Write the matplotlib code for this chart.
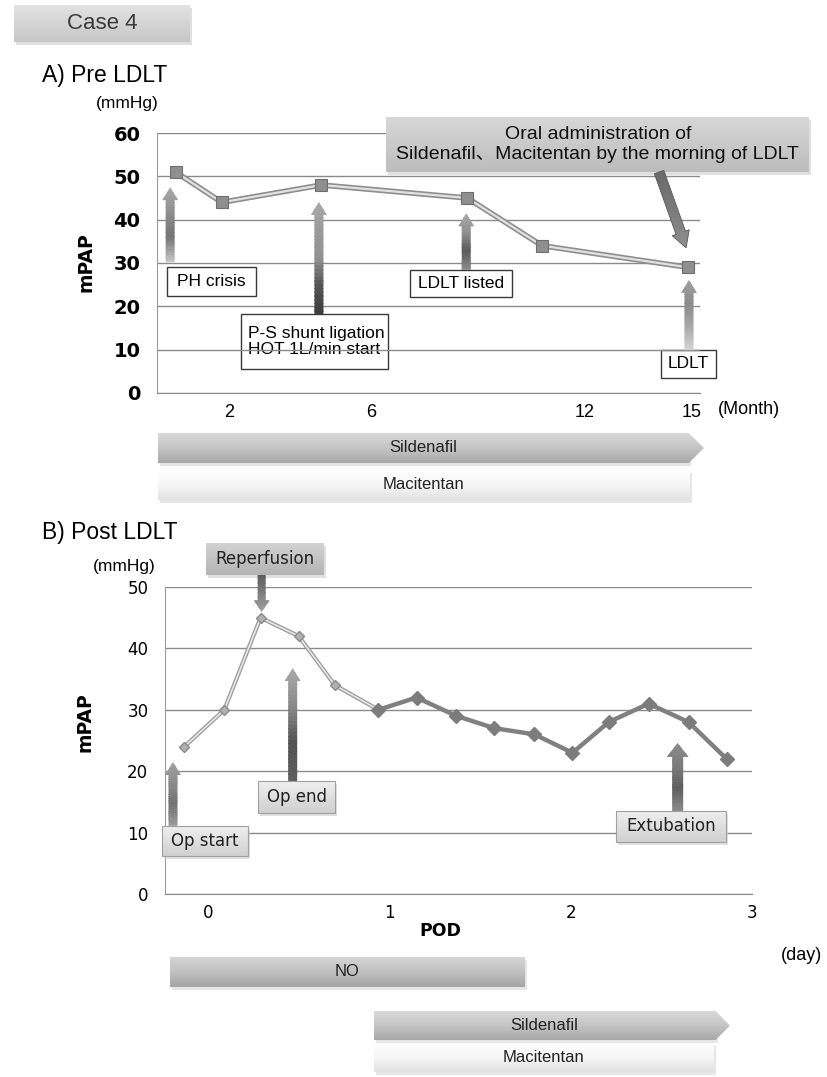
import numpy as np
import matplotlib.pyplot as plt
from matplotlib.patches import Polygon, Rectangle
from matplotlib.transforms import Affine2D
from matplotlib.colors import to_rgb

W, H = 827, 1077
plt.rcParams['font.family'] = ['Liberation Sans', 'Noto Sans CJK JP', 'DejaVu Sans']

# ---- data: A) pre LDLT ----
months = [0.5, 1.8, 4.6, 8.7, 10.8, 14.9]
mpap_pre = [51, 44, 48, 45, 34, 29]
month_ticks = [2, 6, 12, 15]

# ---- data: B) post LDLT ----
pod = [-0.13, 0.09, 0.29, 0.50, 0.70, 0.94, 1.15, 1.37, 1.58, 1.80,
       2.01, 2.21, 2.43, 2.65, 2.86]
mpap_post = [24, 30, 45, 42, 34, 30, 32, 29, 27, 26, 23, 28, 31, 28, 22]
pod_ticks = [0, 1, 2, 3]
n_intraop = 6  # first points drawn with the thin line

# events (label, x, arrow tail, arrow head) in data units
pre_events = ["PH crisis", "P-S shunt ligation\nHOT 1L/min start", "LDLT listed", "LDLT"]
pre_event_x = [0.35, 4.53, 8.67, 14.93]
pre_event_tail = [30.2, 18.2, 28.4, 9.9]
pre_event_head = [47.5, 44.1, 41.5, 26.1]
pre_box_xy = [(1.51, 25.7), (4.41, 11.9), (8.52, 25.3), (14.92, 6.7)]

post_events = ["Op start", "Op end", "Extubation"]
post_event_x = [-0.193, 0.467, 2.59]
post_event_tail = [11.1, 18.4, 13.5]
post_event_head = [21.5, 36.8, 24.6]
post_box_xy = [(-0.019, 8.6), (0.489, 15.8), (2.552, 11.0)]

# treatments (label, start, end)
pre_drugs = [("Sildenafil", 0.0, 15.35), ("Macitentan", 0.0, 14.96)]
post_drugs = [("NO", -0.209, 1.748), ("Sildenafil", 0.913, 2.877), ("Macitentan", 0.913, 2.789)]

fig = plt.figure(figsize=(W / 100, H / 100), dpi=100)
fig.patch.set_facecolor('white')
REF = Affine2D().scale(1, -1).translate(0, H)   # pixel coords, origin top-left


def frac(l, t, r, b):
    return [l / W, 1 - b / H, (r - l) / W, (b - t) / H]


def to_ref(ax, x, y):
    dx, dy = ax.transData.transform((x, y))
    return dx, H - dy


def mix(stops, t):
    cols = [np.array(to_rgb(c)) for c in stops]
    s = t * (len(cols) - 1)
    i = min(int(s), len(cols) - 2)
    f = s - i
    return tuple(cols[i] + (cols[i + 1] - cols[i]) * f)


def grad_patch(target, verts, stops, z, edge=None, lw=0.8, n=30):
    verts = np.asarray(verts, float)
    clip = Polygon(verts, closed=True, transform=REF, facecolor='none',
                   edgecolor=edge if edge else 'none', lw=lw, zorder=z + 0.01)
    x0, x1 = verts[:, 0].min(), verts[:, 0].max()
    y0, y1 = verts[:, 1].min(), verts[:, 1].max()
    hh = (y1 - y0) / n
    for i in range(n):
        r = Rectangle((x0, y0 + i * hh), x1 - x0, hh * 1.3, transform=REF,
                      facecolor=mix(stops, i / (n - 1)), edgecolor='none', zorder=z)
        r.set_clip_path(clip)
        target.add_artist(r)
    clip.set_clip_on(False)
    target.add_artist(clip)


def arrow_verts(p0, p1, w, hw, hl):
    p0, p1 = np.array(p0, float), np.array(p1, float)
    d = p1 - p0
    u = d / np.hypot(*d)
    nv = np.array([-u[1], u[0]])
    b = p1 - u * hl
    return [p0 + nv * w / 2, b + nv * w / 2, b + nv * hw / 2, p1,
            b - nv * hw / 2, b - nv * w / 2, p0 - nv * w / 2]


def box(cx, cy, w, h, text, stops, edge=None, z=6, shadow=True, **tk):
    x0, y0 = cx - w / 2, cy - h / 2
    if shadow:
        fig.add_artist(Rectangle((x0 + 2, y0 + 3), w, h, transform=REF, fc='#d4d4d4',
                                 ec='none', alpha=0.7, zorder=z - 0.1))
    grad_patch(fig, [(x0, y0), (x0 + w, y0), (x0 + w, y0 + h), (x0, y0 + h)], stops, z, edge)
    fig.text(cx / W, 1 - cy / H, text, ha='center', va='center', zorder=z + 0.1, **tk)


def drug_bar(ax, label, xs, xe, top, bot, stops, tip=0):
    x0 = to_ref(ax, xs, 0)[0]
    x1 = to_ref(ax, xe, 0)[0]
    mid = (top + bot) / 2
    fig.add_artist(Rectangle((x0 + 2, top + 3), x1 - x0 - tip, bot - top, transform=REF,
                             fc='#d6d6d6', ec='none', alpha=0.6, zorder=4.9))
    if tip:
        verts = [(x0, top), (x1 - tip, top), (x1, mid), (x1 - tip, bot), (x0, bot)]
    else:
        verts = [(x0, top), (x1, top), (x1, bot), (x0, bot)]
    grad_patch(fig, verts, stops, 5)
    fig.text((x0 + x1 - tip) / 2 / W, 1 - mid / H, label, ha='center', va='center',
             fontsize=12, color='#222222', zorder=5.5)


def style_axes(ax):
    for s in ['top', 'right']:
        ax.spines[s].set_visible(False)
    ax.spines['left'].set_color('#9a9a9a')
    ax.spines['bottom'].set_color('#8a8a8a')
    ax.grid(axis='y', color='#8a8a8a', lw=1)
    ax.patch.set_alpha(0)


# ---------------- header ----------------
box(102, 23.5, 176, 37, "Case 4", ['#e2e2e2', '#c6c6c6'], fontsize=16, color='#3a3a3a')
fig.text(42 / W, 1 - 75 / H, "A) Pre LDLT", ha='left', va='center', fontsize=16.5)
fig.text(127 / W, 1 - 103.5 / H, "(mmHg)", ha='center', va='center', fontsize=12.5)

# ---------------- panel A ----------------
axA = fig.add_axes(frac(157, 133, 700, 393))
axA.plot(months, mpap_pre, color='#8e8e8e', lw=4, zorder=4)
axA.plot(months, mpap_pre, color='#e2e2e2', lw=1.6, zorder=4.1)
axA.plot(months, mpap_pre, ls='none', marker='s', ms=8, mfc='#8f8f8f', mec='#6e6e6e',
         mew=0.8, zorder=4.2)
axA.set_xlim(-0.02, 15.24)
axA.set_ylim(0, 60)
axA.set_yticks(range(0, 61, 10))
axA.set_xticks(month_ticks)
style_axes(axA)
axA.tick_params(axis='y', length=0, pad=12, labelsize=14, labelfontfamily='DejaVu Sans')
axA.tick_params(axis='x', length=0, pad=8, labelsize=13)
plt.setp(axA.get_yticklabels(), fontweight='bold')
fig.text(749 / W, 1 - 410 / H, "(Month)", ha='center', va='center', fontsize=13)
fig.text(86 / W, 1 - 262 / H, "mPAP", rotation=90, ha='center', va='center',
         fontsize=13.5, fontweight='bold', family='DejaVu Sans')

pre_box_size = [(89, 29), (147, 55), (102, 27), (55, 28)]
pre_arrow_stops = [['#a8a8a8', '#8e8e8e', '#747474', '#c4c4c4'],
                   ['#a8a8a8', '#9a9a9a', '#929292', '#555555', '#3e3e3e'],
                   ['#a8a8a8', '#919191', '#5a5a5a', '#8a8a8a'],
                   ['#a0a0a0', '#8a8a8a', '#a8a8a8', '#d2d2d2']]
for lab, ex, et, eh, (bx, by), (bw, bh), st in zip(pre_events, pre_event_x, pre_event_tail,
                                                   pre_event_head, pre_box_xy, pre_box_size,
                                                   pre_arrow_stops):
    tail = to_ref(axA, ex, et)
    head = to_ref(axA, ex, eh)
    grad_patch(axA, arrow_verts(tail, head, 9, 16, 13), st, 3)
    cx, cy = to_ref(axA, bx, by)
    axA.add_artist(Rectangle((cx - bw / 2, cy - bh / 2), bw, bh, transform=REF, fc='white',
                             ec='#3a3a3a', lw=1, zorder=1, clip_on=False))
    if '\n' in lab:
        axA.text(cx - bw / 2 + 7, cy, lab, transform=REF, ha='left', va='center',
                 fontsize=12.5, zorder=1.2, linespacing=1.15)
    else:
        axA.text(cx, cy, lab, transform=REF, ha='center', va='center', fontsize=12.5,
                 zorder=1.2)

# oral administration note + diagonal arrow
ox, oy = to_ref(axA, 12.37, 57.3)
box(ox, oy, 423, 55, "Oral administration of\nSildenafil、Macitentan by the morning of LDLT",
    ['#d6d6d6', '#bcbcbc'], fontsize=14, color='#111111', linespacing=1.25)
d0 = to_ref(axA, 14.09, 51.0)
d1 = to_ref(axA, 14.85, 33.5)
grad_patch(fig, arrow_verts(d0, d1, 10, 18, 16), ['#6a6a6a', '#7a7a7a', '#8e8e8e'], 6.5,
           edge='#5a5a5a', lw=0.6)

# treatment bars A
drug_bar(axA, pre_drugs[0][0], pre_drugs[0][1], pre_drugs[0][2], 433, 463,
         ['#d8d8d8', '#c4c4c4', '#a9a9a9'], tip=15)
drug_bar(axA, pre_drugs[1][0], pre_drugs[1][1], pre_drugs[1][2], 470, 500,
         ['#fdfdfd', '#f6f6f6', '#e2e2e2'])

# ---------------- panel B ----------------
fig.text(42 / W, 1 - 532 / H, "B) Post LDLT", ha='left', va='center', fontsize=16.5)
fig.text(124.5 / W, 1 - 566 / H, "(mmHg)", ha='center', va='center', fontsize=12.5)

axB = fig.add_axes(frac(165, 587, 752, 894))
axB.plot(pod[:n_intraop], mpap_post[:n_intraop], color='#9a9a9a', lw=3, zorder=4)
axB.plot(pod[:n_intraop], mpap_post[:n_intraop], color='#e8e8e8', lw=1.2, zorder=4.1)
axB.plot(pod[:n_intraop], mpap_post[:n_intraop], ls='none', marker='D', ms=5.5,
         mfc='#b0b0b0', mec='#8a8a8a', zorder=4.2)
axB.plot(pod[n_intraop - 1:], mpap_post[n_intraop - 1:], color='#808080', lw=3.2, zorder=4.3,
         marker='D', ms=7, mfc='#7c7c7c', mec='#7c7c7c')
axB.set_xlim(-0.237, 2.964)
axB.set_ylim(0, 50)
axB.set_yticks(range(0, 51, 10))
axB.set_xticks(pod_ticks)
style_axes(axB)
axB.tick_params(axis='y', length=0, pad=12, labelsize=12, labelfontfamily='DejaVu Sans')
axB.tick_params(axis='x', length=0, pad=7, labelsize=12, labelfontfamily='DejaVu Sans')
fig.text(85 / W, 1 - 722 / H, "mPAP", rotation=90, ha='center', va='center',
         fontsize=13.5, fontweight='bold', family='DejaVu Sans')
fig.text(440 / W, 1 - 931 / H, "POD", ha='center', va='center', fontsize=12.5,
         fontweight='bold', family='DejaVu Sans')
fig.text(802 / W, 1 - 955 / H, "(day)", ha='center', va='center', fontsize=13)

# reperfusion
rx, ry = to_ref(axB, 0.314, 54.6)
box(rx, ry, 118, 32, "Reperfusion", ['#d2d2d2', '#b4b4b4'], z=6, fontsize=12,
    family='DejaVu Sans', color='#222222')
r0 = to_ref(axB, 0.296, 52.0)
r1 = to_ref(axB, 0.296, 45.9)
grad_patch(fig, arrow_verts(r0, r1, 8, 16, 12), ['#5e5e5e', '#7e7e7e', '#a0a0a0'], 6.5)

post_box_size = [(86, 30), (77, 32), (110, 31)]
post_arrow_stops = [['#a0a0a0', '#8a8a8a', '#727272', '#9a9a9a'],
                    ['#a8a8a8', '#8a8a8a', '#525252', '#5e5e5e'],
                    ['#8a8a8a', '#7c7c7c', '#5e5e5e', '#8a8a8a']]
post_arrow_w = [(9, 16, 13), (9, 16, 13), (11, 22, 14)]
for lab, ex, et, eh, (bx, by), (bw, bh), st, aw in zip(post_events, post_event_x,
                                                       post_event_tail, post_event_head,
                                                       post_box_xy, post_box_size,
                                                       post_arrow_stops, post_arrow_w):
    tail = to_ref(axB, ex, et)
    head = to_ref(axB, ex, eh)
    grad_patch(fig, arrow_verts(tail, head, *aw), st, 5.8)
    cx, cy = to_ref(axB, bx, by)
    box(cx, cy, bw, bh, lab, ['#eeeeee', '#d0d0d0'], edge='#a0a0a0', z=6, fontsize=12,
        family='DejaVu Sans', color='#222222')

# treatment bars B
drug_bar(axB, post_drugs[0][0], post_drugs[0][1], post_drugs[0][2], 957, 987,
         ['#d4d4d4', '#c0c0c0', '#a4a4a4'])
drug_bar(axB, post_drugs[1][0], post_drugs[1][1], post_drugs[1][2], 1011, 1040,
         ['#d8d8d8', '#c4c4c4', '#a9a9a9'], tip=14)
drug_bar(axB, post_drugs[2][0], post_drugs[2][1], post_drugs[2][2], 1043, 1072,
         ['#fdfdfd', '#f6f6f6', '#e2e2e2'])

fig.savefig('out.png', dpi=100)
